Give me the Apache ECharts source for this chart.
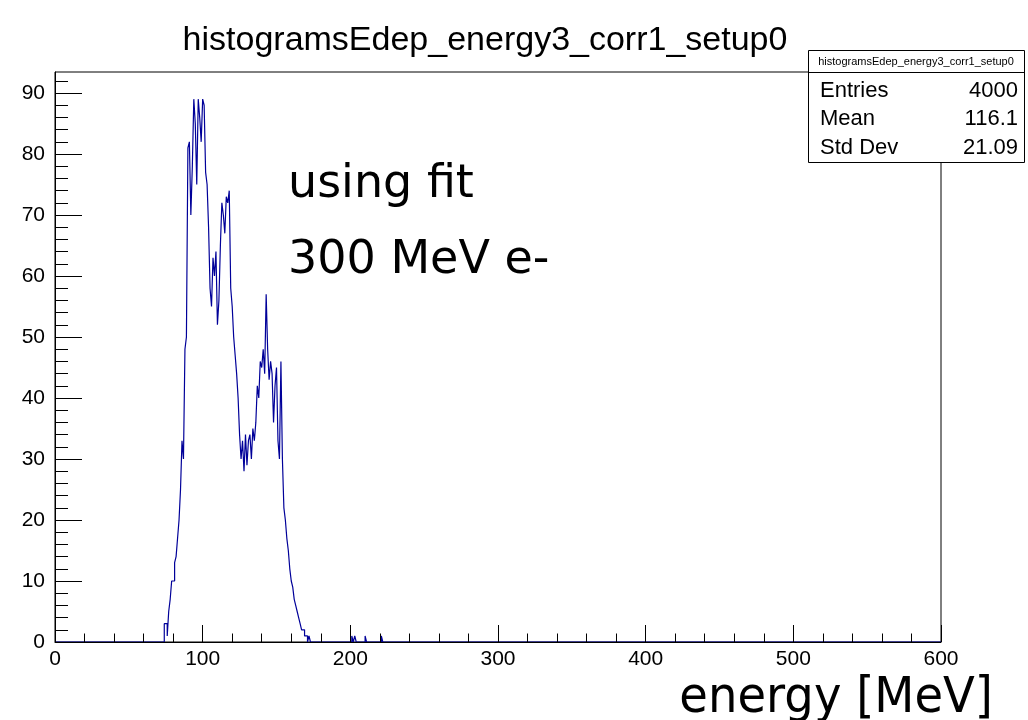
<!DOCTYPE html>
<html>
<head>
<meta charset="utf-8">
<script src="https://cdn.jsdelivr.net/npm/echarts@6/dist/echarts.min.js"></script>
<style>
html,body{margin:0;padding:0;background:#fff;}
#chart{width:1028px;height:720px;}
</style>
</head>
<body>
<div id="chart"></div>
<script>
// ---- data ----
const histTitle = 'histogramsEdep_energy3_corr1_setup0';
const xAxisTitle = 'energy [MeV]';
const noteLines = ['using fit', '300 MeV e-'];
const statNames = ['Entries', 'Mean', 'Std Dev'];
const statValues = ['4000', '116.1', '21.09'];
const nBins = 600;          // 1 MeV bins, 0..600
const binStart = 73;        // first listed bin
const counts = [
  0, 3, 3, 1, 5, 7, 10, 10, 13, 14,        // 73-82
  17, 20, 25, 33, 30, 48, 50, 81, 82, 70,  // 83-92
  78, 89, 85, 75, 89, 86, 82, 89, 88, 77,  // 93-102
  75, 68, 58, 55, 63, 60, 64, 52, 56, 65,  // 103-112
  72, 70, 67, 73, 72, 74, 58, 55, 50, 47,  // 113-122
  44, 40, 34, 30, 33, 28, 34, 29, 33, 34,  // 123-132
  30, 35, 33, 36, 42, 40, 46, 45, 48, 44,  // 133-142
  57, 48, 43, 46, 44, 36, 42, 45, 33, 30,  // 143-152
  46, 30, 22, 20, 17, 15, 12, 10, 9, 7,    // 153-162
  6, 5, 4, 3, 2, 2, 1, 1, 0, 1             // 163-172
];
const tailBins = [201, 203, 210, 221];
const tailCounts = [1, 1, 1, 1];
const xTickValues = [0, 100, 200, 300, 400, 500, 600];
const yMajorTicks = [0, 10, 20, 30, 40, 50, 60, 70, 80, 90];
const yMinorTicks = [0,2,4,6,8,10,12,14,16,18,20,22,24,26,28,30,32,34,36,38,40,42,44,46,48,50,52,54,56,58,60,62,64,66,68,70,72,74,76,78,80,82,84,86,88,90,92];
const yMax = 93.45;

// ---- build histogram outline (each bin: left edge and right edge at its count) ----
const hist = new Array(nBins).fill(0);
counts.forEach((c, i) => { hist[binStart + i] = c; });
tailBins.forEach((b, i) => { hist[b] = tailCounts[i]; });
const outline = [];
hist.forEach((v, i) => { outline.push([i, v]); outline.push([i + 1, v]); });

const GL = 55, GT = 72, GW = 886, GH = 570;
const black = '#000';
const helv = 'Liberation Sans';
const dejavu = 'DejaVu Sans';

const chart = echarts.init(document.getElementById('chart'), null, {renderer: 'canvas'});
chart.setOption({
  animation: false,
  backgroundColor: '#fff',
  grid: {left: GL, top: GT, width: GW, height: GH, show: true, borderColor: black, borderWidth: 1, backgroundColor: 'transparent'},
  xAxis: {
    type: 'value', min: 0, max: 600, interval: 100, z: 5,
    axisLine: {show: true, lineStyle: {color: black, width: 1}},
    axisTick: {show: true, inside: true, length: 17, lineStyle: {color: black, width: 1}},
    minorTick: {show: true, splitNumber: 5, length: 8.5, lineStyle: {color: black, width: 1}},
    axisLabel: {color: black, fontFamily: helv, fontSize: 21, margin: 7,
      customValues: xTickValues},
    splitLine: {show: false}
  },
  yAxis: [{
    type: 'value', min: 0, max: yMax, position: 'left', z: 5,
    axisLine: {show: true, lineStyle: {color: black, width: 1}},
    axisTick: {show: true, inside: true, length: 27, customValues: yMajorTicks, lineStyle: {color: black, width: 1}},
    axisLabel: {color: black, fontFamily: helv, fontSize: 21, margin: 10, customValues: yMajorTicks},
    splitLine: {show: false}
  }, {
    type: 'value', min: 0, max: yMax, position: 'left', offset: 0, z: 5,
    axisLine: {show: false},
    axisTick: {show: true, inside: true, length: 13, customValues: yMinorTicks, lineStyle: {color: black, width: 1}},
    axisLabel: {show: false},
    splitLine: {show: false}
  }],
  series: [{
    type: 'line', data: outline, yAxisIndex: 0,
    showSymbol: false, symbol: 'none', z: 2, sampling: null,
    lineStyle: {color: '#000099', width: 1.2},
    silent: true
  }],
  graphic: [
    {type: 'text', x: 485, y: 58, z: 10, style: {text: histTitle, font: '34px "' + helv + '"', fill: black, textAlign: 'center', textVerticalAlign: 'bottom'}},
    {type: 'text', x: 288, y: 208, z: 10, style: {text: noteLines[0], font: '46px "' + dejavu + '"', fill: black, textAlign: 'left', textVerticalAlign: 'bottom'}},
    {type: 'text', x: 288, y: 284, z: 10, style: {text: noteLines[1], font: '46px "' + dejavu + '"', fill: black, textAlign: 'left', textVerticalAlign: 'bottom'}},
    {type: 'text', x: 993, y: 724, z: 10, scaleX: 0.93, style: {text: xAxisTitle, font: '50px "' + dejavu + '"', fill: black, textAlign: 'right', textVerticalAlign: 'bottom'}},
    {type: 'rect', z: 10, shape: {x: 808.5, y: 50.5, width: 216, height: 112}, style: {fill: '#fff', stroke: black, lineWidth: 1}},
    {type: 'line', z: 11, shape: {x1: 808.5, y1: 72.5, x2: 1024.5, y2: 72.5}, style: {stroke: black, lineWidth: 1}},
    {type: 'text', x: 916, y: 61.5, z: 11, style: {text: histTitle, font: '11px "' + helv + '"', fill: black, textAlign: 'center', textVerticalAlign: 'middle'}},
    {type: 'text', x: 820, y: 91, z: 11, style: {text: statNames[0], font: '22px "' + helv + '"', fill: black, textAlign: 'left', textVerticalAlign: 'middle'}},
    {type: 'text', x: 820, y: 119, z: 11, style: {text: statNames[1], font: '22px "' + helv + '"', fill: black, textAlign: 'left', textVerticalAlign: 'middle'}},
    {type: 'text', x: 820, y: 148, z: 11, style: {text: statNames[2], font: '22px "' + helv + '"', fill: black, textAlign: 'left', textVerticalAlign: 'middle'}},
    {type: 'text', x: 1018, y: 91, z: 11, style: {text: statValues[0], font: '22px "' + helv + '"', fill: black, textAlign: 'right', textVerticalAlign: 'middle'}},
    {type: 'text', x: 1018, y: 119, z: 11, style: {text: statValues[1], font: '22px "' + helv + '"', fill: black, textAlign: 'right', textVerticalAlign: 'middle'}},
    {type: 'text', x: 1018, y: 148, z: 11, style: {text: statValues[2], font: '22px "' + helv + '"', fill: black, textAlign: 'right', textVerticalAlign: 'middle'}}
  ]
});
</script>
</body>
</html>
